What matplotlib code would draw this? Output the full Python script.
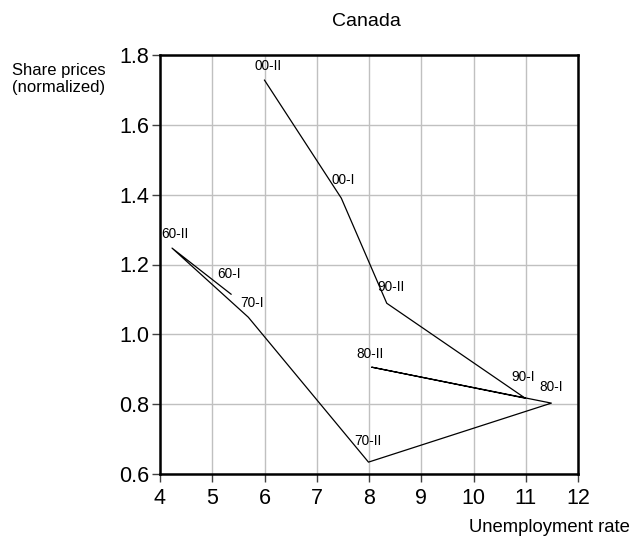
import numpy as np
import matplotlib.pyplot as plt

plt.rcParams['font.family'] = ['Liberation Sans', 'DejaVu Sans']

# path through decades (unemployment rate, normalized share prices)
labels = ["60-I", "60-II", "70-I", "70-II", "80-I", "80-II", "90-I", "90-II", "00-I", "00-II"]
unemp = [5.36, 4.23, 5.69, 7.99, 11.49, 8.05, 10.99, 8.34, 7.47, 6.0]
share = [1.115, 1.247, 1.049, 0.634, 0.803, 0.906, 0.817, 1.089, 1.39, 1.728]
# label offsets in pixels (left, bottom) relative to the point
offsets = [(-14, 13), (-11, 7), (-8, 7), (-14, 14), (-12, 9),
           (-15, 6), (-14, 14), (-9, 9), (-10, 11), (-10, 7)]

fig = plt.figure(figsize=(6.34, 5.4), dpi=100)
ax = fig.add_axes([160 / 634, 1 - 474 / 540, 418 / 634, 419 / 540])

ax.plot(unemp, share, color="black", lw=0.9)
for lab, x, y, (dx, dy) in zip(labels, unemp, share, offsets):
    ax.annotate(lab, (x, y), xytext=(dx, dy), textcoords="offset pixels",
                ha="left", va="bottom", fontsize=9.8)

ax.set_xlim(4, 12)
ax.set_ylim(0.6, 1.8)
ax.set_xticks(np.arange(4, 13, 1))
ax.set_yticks([0.6, 0.8, 1.0, 1.2, 1.4, 1.6, 1.8])
ax.set_yticklabels(["0.6", "0.8", "1.0", "1.2", "1.4", "1.6", "1.8"])
ax.grid(True, color="#c0c0c0", lw=1)
ax.set_axisbelow(True)
for s in ax.spines.values():
    s.set_linewidth(1.8)
ax.tick_params(labelsize=15.5, length=6, width=1, color="#404040", direction="out")
ax.tick_params(axis="x", pad=4)
ax.tick_params(axis="y", pad=2)

fig.text(366 / 634, 1 - 22 / 540, "Canada", ha="center", va="center", fontsize=14)
fig.text(12 / 634, 1 - 79 / 540, "Share prices\n(normalized)", ha="left", va="center",
         fontsize=12, linespacing=1.15)
fig.text(630 / 634, 1 - 527 / 540, "Unemployment rate", ha="right", va="center", fontsize=13.3)

fig.savefig("out.png", dpi=100)
